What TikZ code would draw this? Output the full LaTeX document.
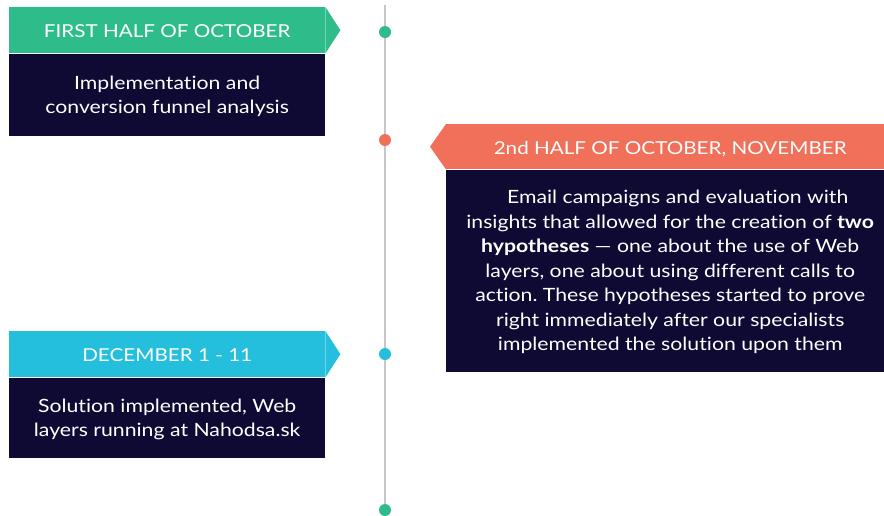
\documentclass[tikz,border=0pt]{standalone}
\usepackage{fontspec}
\setmainfont[FakeStretch=1.16, Ligatures={NoCommon}]{Lato}
\frenchspacing
\usetikzlibrary{positioning}

\definecolor{mintgreen}{HTML}{2FBC8B}
\definecolor{salmon}{HTML}{F07059}
\definecolor{skyblue}{HTML}{24BFDD}
\definecolor{navy}{HTML}{0E0A33}
\definecolor{railgray}{HTML}{C6C6CB}

\tikzset{
  header/.style={fill=#1, text=white, inner sep=0pt, minimum height=46pt,
    text height=16pt, text depth=0.6pt, font=\fontsize{17.8}{21}\selectfont},
  body/.style={fill=navy, text=white, inner sep=0pt, align=center,
    text depth=-1.5pt, font=\fontsize{18.3}{24.5}\selectfont},
  dot/.style={circle, fill=#1, inner sep=0pt, minimum size=12pt},
  rail/.style={draw=railgray, line width=2.5pt}
}

\begin{document}
\begin{tikzpicture}[x=1pt, y=-1pt]
    \useasboundingbox (0,0) rectangle (884,515);

    % timeline
    \coordinate (top) at (385,5);
    \coordinate (bottom) at (385,520);
    \draw[rail] (top) -- (bottom);

    \node[dot=mintgreen] at (385,32)  (d1) {};
    \node[dot=salmon]    at (385,140) (d2) {};
    \node[dot=skyblue]   at (385,354) (d3) {};
    \node[dot=mintgreen] at (385,510) (d4) {};

    % first half of october
    \node[header=mintgreen, minimum width=316pt, anchor=north west] at (9,7) (oct) {FIRST HALF OF OCTOBER};
    \fill[mintgreen] (oct.north east) -- ([xshift=15pt]oct.east) -- (oct.south east) -- cycle;
    \node[body, minimum width=316pt, minimum height=82pt, below=0pt of oct] (octtxt)
        {Implementation and\\conversion funnel analysis};

    % second half of october, november
    \node[header=salmon, minimum width=448pt, minimum height=45pt, anchor=north west] at (446,124) (nov) {2nd HALF OF OCTOBER, NOVEMBER};
    \fill[salmon] (nov.north west) -- ([xshift=-16pt]nov.west) -- (nov.south west) -- cycle;
    \node[body, minimum width=448pt, minimum height=202pt, below=0pt of nov] (novtxt)
        {\hspace*{15pt}Email campaigns and evaluation with\\
         insights that allowed for the creation of \textbf{two}\\
         \textbf{hypotheses} --- one about the use of Web\\
         layers, one about using different calls to\\
         action. These hypotheses started to prove\\
         right immediately after our specialists\\
         implemented the solution upon them};

    % december
    \node[header=skyblue, minimum width=316pt, anchor=north west] at (9,331) (dec) {DECEMBER 1 - 11};
    \fill[skyblue] (dec.north east) -- ([xshift=15pt]dec.east) -- (dec.south east) -- cycle;
    \node[body, minimum width=316pt, minimum height=80pt, below=0pt of dec] (dectxt)
        {Solution implemented, Web\\layers running at Nahodsa.sk};
\end{tikzpicture}
\end{document}
